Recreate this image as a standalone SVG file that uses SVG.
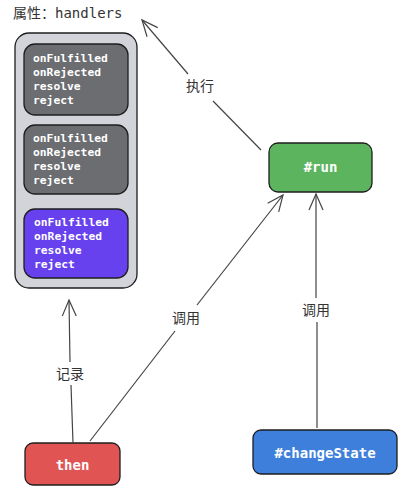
<svg xmlns="http://www.w3.org/2000/svg" width="404" height="496" viewBox="0 0 404 496">
<style>
.mono{font-family:"DejaVu Sans Mono","Liberation Mono",monospace;font-weight:bold;fill:#fff}
.cn{font-family:"Noto Sans CJK SC",sans-serif;font-size:14px;fill:#333}
.box{stroke:#1e1e1e;stroke-width:1.3}
.edge{fill:none;stroke:#444;stroke-width:1.2}
</style>
<defs>
<marker id="arr" viewBox="0 0 20 20" refX="18" refY="10" markerWidth="20" markerHeight="20" markerUnits="userSpaceOnUse" orient="auto">
<path d="M2,3 L18,10 L2,17" fill="none" stroke="#444" stroke-width="1.2"/>
</marker>
</defs>
<rect width="404" height="496" fill="#fff"/>
<g id="title">
<text x="13" y="18" class="cn" style="font-size:14px">属性：<tspan style="font-family:'DejaVu Sans Mono',monospace">handlers</tspan></text>
</g>
<g id="handlers">
<rect class="box" x="15" y="33" width="122" height="255" rx="14" fill="#d3d4da"/>
<g id="h1">
<rect class="box" x="24" y="44" width="104" height="71" rx="11" fill="#6b6d71"/>
<text class="mono" font-size="11.3" x="33"><tspan x="33" y="62">onFulfilled</tspan><tspan x="33" y="76">onRejected</tspan><tspan x="33" y="90">resolve</tspan><tspan x="33" y="104">reject</tspan></text>
</g>
<g id="h2">
<rect class="box" x="24" y="125" width="104" height="69" rx="11" fill="#6b6d71"/>
<text class="mono" font-size="11.3" x="33"><tspan x="33" y="142">onFulfilled</tspan><tspan x="33" y="156">onRejected</tspan><tspan x="33" y="170">resolve</tspan><tspan x="33" y="184">reject</tspan></text>
</g>
<g id="h3">
<rect class="box" x="24" y="209" width="104" height="69" rx="11" fill="#6741ee"/>
<text class="mono" font-size="11.3" x="34"><tspan x="34" y="226">onFulfilled</tspan><tspan x="34" y="240">onRejected</tspan><tspan x="34" y="254">resolve</tspan><tspan x="34" y="268">reject</tspan></text>
</g>
</g>
<g id="run">
<rect class="box" x="269" y="143" width="103" height="49" rx="9" fill="#5cb45e"/>
<text class="mono" font-size="14" x="320.5" y="172" text-anchor="middle">#run</text>
</g>
<g id="then">
<rect class="box" x="25" y="443" width="95" height="42" rx="8" fill="#e05454"/>
<text class="mono" font-size="14" x="72.5" y="470" text-anchor="middle" fill="#f3f3f3">then</text>
</g>
<g id="changeState">
<rect class="box" x="253" y="430" width="144" height="44" rx="8" fill="#3f7fdc"/>
<text class="mono" font-size="14" x="325" y="458" text-anchor="middle">#changeState</text>
</g>
<g id="connectors">
<path class="edge" d="M261,150 L213,101"/>
<path class="edge" d="M188,74 L142,20" marker-end="url(#arr)"/>
<text class="cn" x="200" y="91" text-anchor="middle">执行</text>
<path class="edge" d="M73,443 L71,385"/>
<path class="edge" d="M70,362 L69,300" marker-end="url(#arr)"/>
<text class="cn" x="70" y="379" text-anchor="middle">记录</text>
<path class="edge" d="M90,441 L175,331"/>
<path class="edge" d="M197,305 L283,195" marker-end="url(#arr)"/>
<text class="cn" x="186" y="323" text-anchor="middle">调用</text>
<path class="edge" d="M317,428 L317,322"/>
<path class="edge" d="M316,298 L316,194" marker-end="url(#arr)"/>
<text class="cn" x="316" y="315" text-anchor="middle">调用</text>
</g>
</svg>
